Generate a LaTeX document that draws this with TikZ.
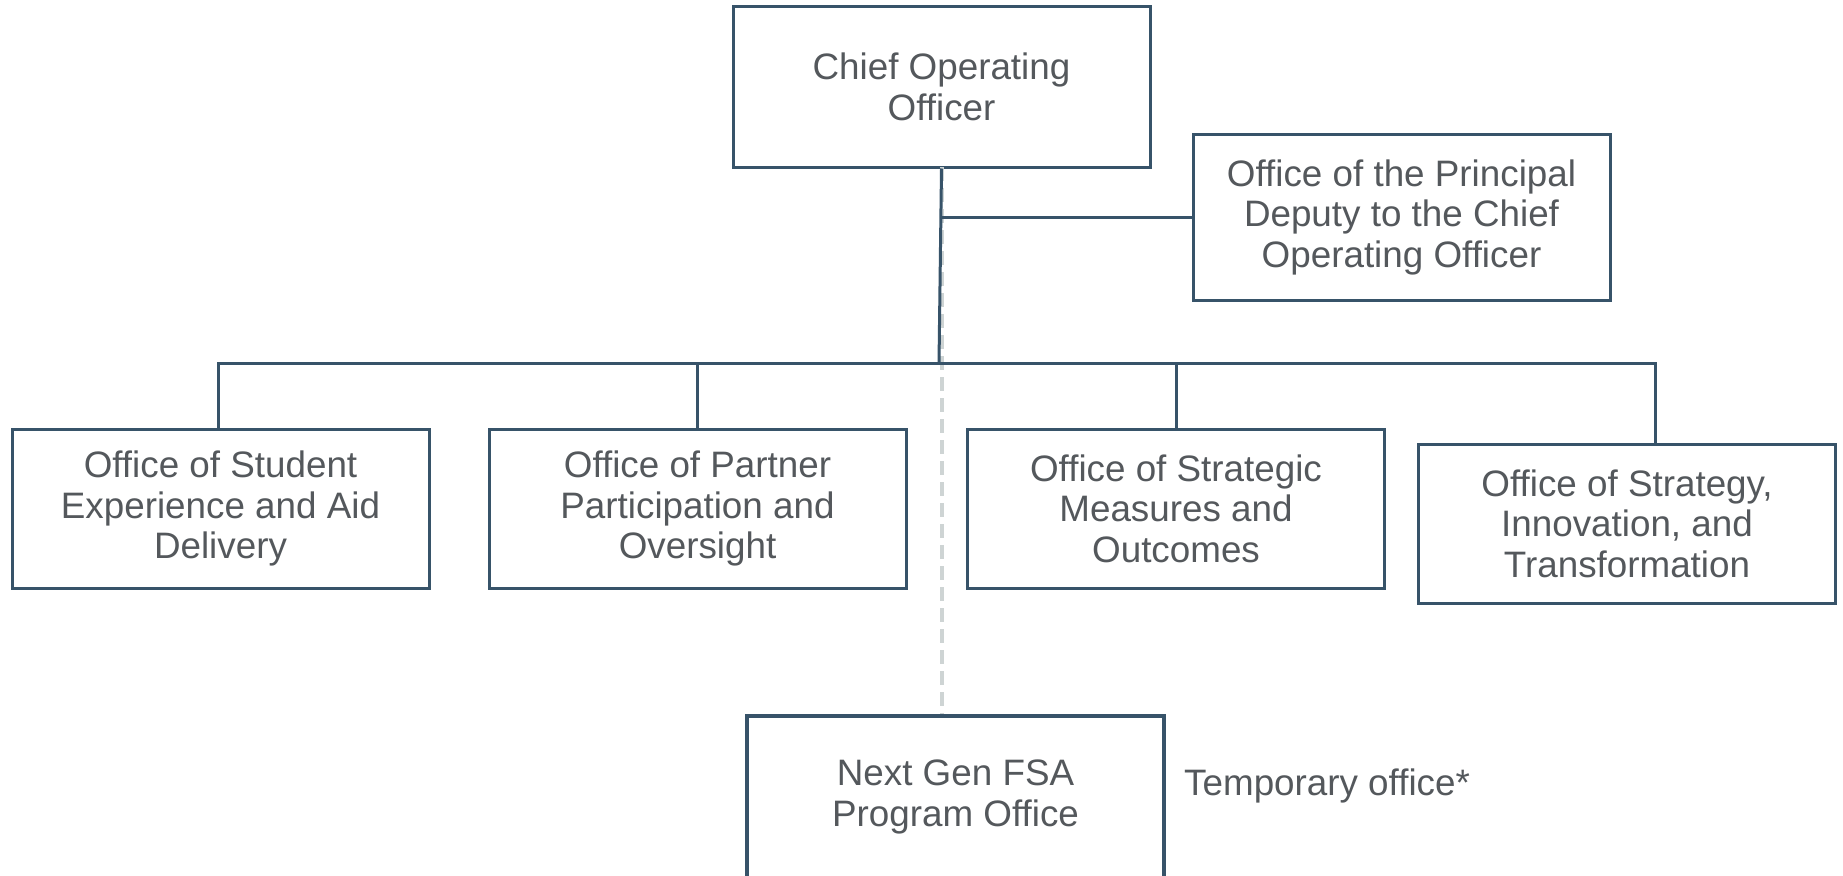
\documentclass[tikz,border=0pt]{standalone}
\usepackage{fontspec}
\setmainfont{Liberation Sans}
\definecolor{linec}{HTML}{375369}
\definecolor{textc}{HTML}{54585C}
\definecolor{dashc}{HTML}{CED4D4}
\begin{document}
\begin{tikzpicture}[x=1pt,y=-1pt,
  box/.style={draw=linec, line width=3pt, minimum width=417pt, inner sep=0pt,
    align=center, text=textc, font=\fontsize{36.8}{40.5}\selectfont},
  conn/.style={draw=linec, line width=3pt},
  dashln/.style={draw=dashc, line width=3.5pt, dash pattern=on 14pt off 7pt}]
\useasboundingbox (0,0) rectangle (1843,875);
\clip (0,0) rectangle (1843,875);
\fill[white] (0,0) rectangle (1843,875);

\node[box, minimum height=160pt] (coo) at (941.5,87) {Chief Operating\\Officer};
\node[box, minimum height=166pt] (dep) at (1401.5,217) {Office of the Principal\\Deputy to the Chief\\Operating Officer};
\node[box, minimum height=159pt] (b1) at (220.5,508.5) {Office of Student\\Experience and Aid\\Delivery};
\node[box, minimum height=159pt] (b2) at (697.5,508.5) {Office of Partner\\Participation and\\Oversight};
\node[box, minimum height=159pt] (b3) at (1176,508.5) {Office of Strategic\\Measures and\\Outcomes};
\node[box, minimum height=159pt] (b4) at (1627,523.5) {Office of Strategy,\\Innovation, and\\Transformation};
\node[box, line width=4.5pt, minimum height=162pt] (ng) at (955.5,797) {Next Gen FSA\\Program Office};
\node[anchor=base west, inner sep=0pt, text=textc, font=\fontsize{36.8}{40.5}\selectfont] (tmp) at (1184,795) {Temporary office*};

\coordinate (dtop) at (942,167);
\coordinate (cbus) at (939,363);
\coordinate (dj) at (940.5,217);
\coordinate (j1) at (218,363);
\coordinate (j4) at (1655,363);

\draw[dashln] (dtop) -- (ng.north -| dtop);
\draw[conn] (coo.south) -- (cbus);
\draw[conn] (dj) -- (dep.west);
\draw[conn] (b1.north -| j1) -- (j1) -- (j4) -- (b4.north -| j4);
\draw[conn] (b2.north) -- (b2.north |- j1);
\draw[conn] (b3.north) -- (b3.north |- j1);
\end{tikzpicture}
\end{document}
